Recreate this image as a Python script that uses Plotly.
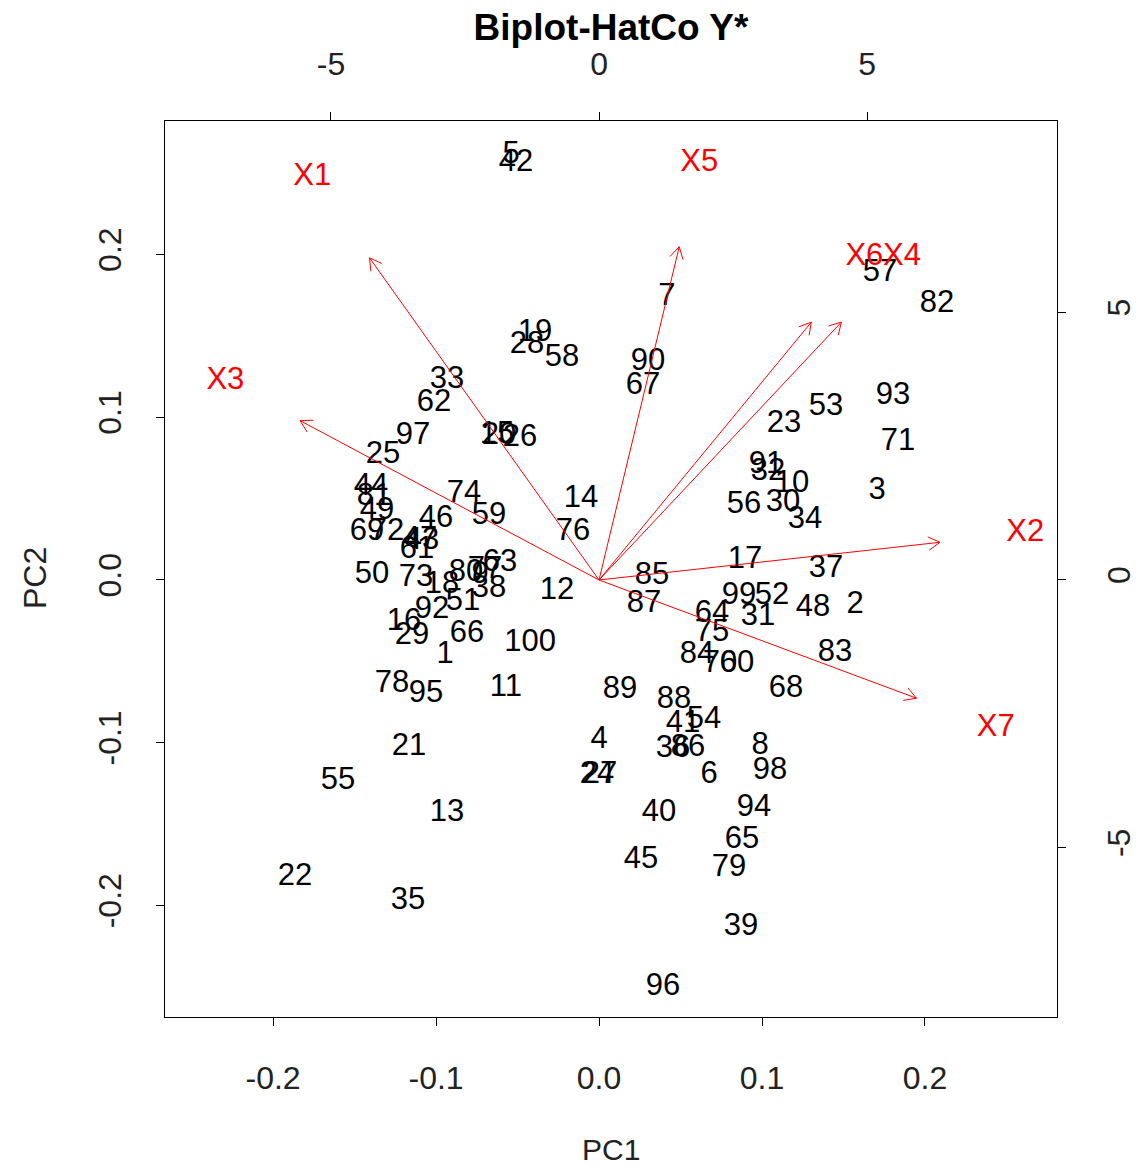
import numpy as np
import plotly.graph_objects as go

# ---- data: observation scores (PC1, PC2) ----
obs_id = list(range(1, 101))
pc1 = [-0.0945, 0.1571, 0.1706, 0.0000, -0.0540, 0.0675, 0.0417, 0.0988, -0.0730, 0.1184,
       -0.0571, -0.0258, -0.0933, -0.0110, -0.0626, -0.1196, 0.0896, -0.0963, -0.0393, -0.0613,
       -0.1166, -0.1865, 0.1135, -0.0012, -0.1325, -0.0485, 0.0006, -0.0442, -0.1147, 0.1129,
       0.0975, 0.1037, -0.0933, 0.1264, -0.1172, 0.0454, 0.1393, -0.0675, 0.0871, 0.0368,
       0.0515, -0.0509, -0.1086, -0.1399, 0.0258, -0.1000, -0.1098, 0.1313, -0.1362, -0.1393,
       -0.0834, 0.1061, 0.1393, 0.0644, -0.1601, 0.0890, 0.1724, -0.0227, -0.0675, 0.0847,
       -0.1117, -0.1012, -0.0607, 0.0693, 0.0877, -0.0810, 0.0270, 0.1147, -0.1423, 0.0742,
       0.1834, -0.1301, -0.1123, -0.0828, 0.0693, -0.0160, -0.0699, -0.1270, 0.0798, -0.0816,
       -0.1380, 0.2074, 0.1448, 0.0601, 0.0325, 0.0546, 0.0276, 0.0460, 0.0129, 0.0301,
       0.1025, -0.1025, 0.1804, 0.0951, -0.1061, 0.0393, -0.1141, 0.1049, 0.0859, -0.0423]
pc2 = [-0.0461, -0.0154, 0.0547, -0.0983, 0.2611, -0.1198, 0.1739, -0.1020, 0.0031, 0.0590,
       -0.0664, -0.0068, -0.1432, 0.0498, 0.0891, -0.0258, 0.0123, -0.0031, 0.1518, 0.0885,
       -0.1026, -0.1825, 0.0959, -0.1198, 0.0768, 0.0873, -0.1198, 0.1444, -0.0344, 0.0473,
       -0.0227, 0.0664, 0.1229, 0.0369, -0.1972, -0.1038, 0.0068, -0.0055, -0.2132, -0.1432,
       -0.0885, 0.2562, 0.0240, 0.0571, -0.1720, 0.0375, 0.0246, -0.0172, 0.0424, 0.0031,
       -0.0135, -0.0098, 0.1063, -0.0860, -0.1235, 0.0461, 0.1886, 0.1364, 0.0393, -0.0516,
       0.0184, 0.1088, 0.0104, -0.0209, -0.1598, -0.0332, 0.1192, -0.0670, 0.0295, -0.0516,
       0.0848, 0.0295, 0.0012, 0.0528, -0.0326, 0.0295, 0.0061, -0.0639, -0.1770, 0.0043,
       0.0510, 0.1696, -0.0449, -0.0461, 0.0025, -0.1032, -0.0147, -0.0737, -0.0676, 0.1339,
       0.0707, -0.0184, 0.1131, -0.1401, -0.0700, -0.2501, 0.0885, -0.1174, -0.0098, -0.0387]

# ---- data: variable loadings (label positions, top/right scale) ----
var_names = ["X1", "X2", "X3", "X4", "X5", "X6", "X7"]
load1 = [-5.35, 7.95, -6.97, 5.65, 1.87, 4.95, 7.40]
load2 = [7.52, 0.88, 3.72, 6.02, 7.78, 6.02, -2.76]

# ---- tick labels ----
pc_ticks = [-0.2, -0.1, 0.0, 0.1, 0.2]
pc_ticktext = ["-0.2", "-0.1", "0.0", "0.1", "0.2"]
ld_ticks = [-5, 0, 5]
ld_ticktext = ["-5", "0", "5"]

FONT = "Liberation Sans, Arial, sans-serif"
FS = 31
FT = 32
ratio = 30.4
xr = [-0.2663, 0.2810]
yr = [-0.2685, 0.2820]

fig = go.Figure()

fig.add_trace(go.Scatter(
    x=pc1, y=pc2, text=[str(i) for i in obs_id], mode="text",
    textposition="middle center",
    textfont=dict(family=FONT, size=FS, color="black"),
    hoverinfo="skip", showlegend=False, xaxis="x", yaxis="y"))

# arrows (R biplot style: shaft to 0.8 * loading, open heads)
ax_x, ax_y = [], []
L = 0.25
for a, b in zip(load1, load2):
    ex, ey = 0.8 * a, 0.8 * b
    ax_x += [0, ex, None]
    ax_y += [0, ey, None]
    th = np.arctan2(ey, ex)
    for s in (1, -1):
        ang = th + s * np.pi / 6
        ax_x += [ex - L * np.cos(ang), ex, None]
        ax_y += [ey - L * np.sin(ang), ey, None]

fig.add_trace(go.Scatter(
    x=ax_x, y=ax_y, mode="lines", line=dict(color="#FF0000", width=1),
    hoverinfo="skip", showlegend=False, xaxis="x2", yaxis="y2"))

fig.add_trace(go.Scatter(
    x=load1, y=load2, text=var_names, mode="text",
    textposition="middle center",
    textfont=dict(family=FONT, size=FS, color="#FF0000"),
    hoverinfo="skip", showlegend=False, xaxis="x2", yaxis="y2"))

axis_common = dict(showgrid=False, zeroline=False, ticks="outside", ticklen=8,
                   tickwidth=1, tickcolor="black", automargin=False,
                   tickfont=dict(family=FONT, size=FT, color="#222"))

fig.update_layout(
    width=1140, height=1168,
    margin=dict(l=165, r=83, t=121, b=151),
    paper_bgcolor="white", plot_bgcolor="white",
    title=dict(text="<b>Biplot-HatCo Y*</b>", x=611 / 1140, xanchor="center",
               y=1 - 27 / 1168, yanchor="middle",
               font=dict(family=FONT, size=37, color="black")),
    xaxis=dict(range=xr, tickvals=pc_ticks, ticktext=pc_ticktext,
               showline=True, linecolor="black", linewidth=1, mirror=True,
               ticklabelstandoff=25, **axis_common),
    yaxis=dict(range=yr, tickvals=pc_ticks, ticktext=pc_ticktext, tickangle=-90,
               showline=True, linecolor="black", linewidth=1, mirror=True,
               ticklabelstandoff=22, **axis_common),
    xaxis2=dict(range=[v * ratio for v in xr], tickvals=ld_ticks, ticktext=ld_ticktext,
                overlaying="x", side="top", anchor="y", showline=False,
                ticklabelstandoff=24, **axis_common),
    yaxis2=dict(range=[v * ratio for v in yr], tickvals=ld_ticks, ticktext=ld_ticktext,
                overlaying="y", side="right", anchor="x", tickangle=-90, showline=False,
                ticklabelstandoff=26, **axis_common),
    annotations=[
        dict(text="PC1", xref="paper", yref="paper", x=0.5, y=(1017 - 1149) / 896,
             xanchor="center", yanchor="middle", showarrow=False,
             font=dict(family=FONT, size=30, color="#222")),
        dict(text="PC2", xref="paper", yref="paper", x=(35 - 165) / 892, y=(1017 - 578) / 896,
             xanchor="center", yanchor="middle", showarrow=False, textangle=-90,
             font=dict(family=FONT, size=FT, color="#222")),
    ],
)

fig.write_html("out.html")
